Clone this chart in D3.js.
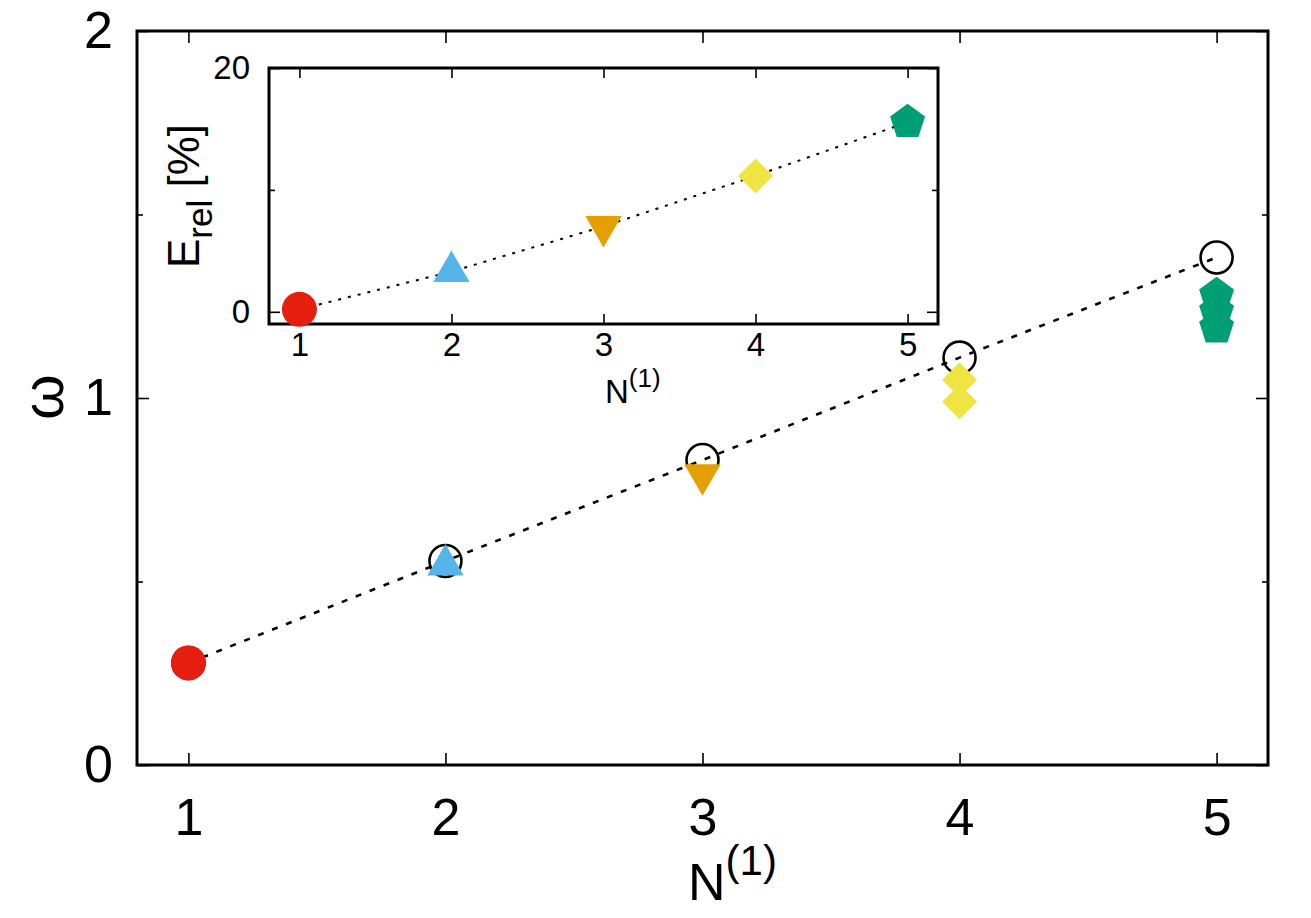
<!DOCTYPE html>
<html lang="en">
  <head>
    <meta charset="UTF-8" />
    <title>omega vs N(1)</title>
    <script src="https://d3js.org/d3.v7.min.js"></script>
    <style>
      body { margin: 0; background: #fff; }
      text { font-family: "Liberation Sans", Arial, sans-serif; fill: #000; }
    </style>
  </head>
  <body></body>
  <script>
    // N^(1) values
    var nValues = [1, 2, 3, 4, 5];
    // open circles (main panel)
    var omegaRef = [0.278, 0.556, 0.831, 1.11, 1.383];
    // coloured markers (main panel), several per N
    var omegaCalc = [[0.278], [0.545], [0.791], [1.05, 0.99], [1.28, 1.236, 1.192]];
    // inset: relative error in %
    var errRel = [0.2, 3.3, 7.0, 11.15, 15.55];

    var markerColors = ["#e51e10", "#56b4e9", "#e69f00", "#f0e442", "#009e73"];
    var markerShapes = ["circle", "triUp", "triDown", "diamond", "pentagon"];

    var mainYTicks = [0, 1, 2];
    var mainYMinor = [0.5, 1.5];
    var insetYTicks = [0, 20];
    var insetYMinor = [10];

    var W = 1311, H = 918;
    var main = { left: 137, right: 1268, top: 31, bottom: 765 };
    var inset = { left: 269, right: 938, top: 68, bottom: 324 };

    var svg = d3.select("body").append("svg").attr("width", W).attr("height", H);

    // marker shapes, size = radius^2
    var shapes = {
      circle: { draw: function (c, s) { var r = Math.sqrt(s); c.moveTo(r, 0); c.arc(0, 0, r, 0, 2 * Math.PI); } },
      triUp: { draw: function (c, s) {
        var r = Math.sqrt(s) * 1.2;
        c.moveTo(0, -r); c.lineTo(r * Math.sin(Math.PI / 3), r / 2); c.lineTo(-r * Math.sin(Math.PI / 3), r / 2); c.closePath();
      } },
      triDown: { draw: function (c, s) {
        var r = Math.sqrt(s) * 1.2;
        c.moveTo(0, r); c.lineTo(r * Math.sin(Math.PI / 3), -r / 2); c.lineTo(-r * Math.sin(Math.PI / 3), -r / 2); c.closePath();
      } },
      diamond: { draw: function (c, s) {
        var r = Math.sqrt(s);
        c.moveTo(0, -r); c.lineTo(r, 0); c.lineTo(0, r); c.lineTo(-r, 0); c.closePath();
      } },
      pentagon: { draw: function (c, s) {
        var r = Math.sqrt(s) * 1.05;
        for (var i = 0; i < 5; i++) {
          var a = -Math.PI / 2 + i * 2 * Math.PI / 5;
          if (i === 0) c.moveTo(r * Math.cos(a), r * Math.sin(a));
          else c.lineTo(r * Math.cos(a), r * Math.sin(a));
        }
        c.closePath();
      } }
    };
    function marker(i) {
      return d3.symbol().type(shapes[markerShapes[i]]).size(17.5 * 17.5)();
    }

    // ---------------- main panel ----------------
    var x = d3.scaleLinear().domain([0.8, 5.2]).range([main.left, main.right]);
    var y = d3.scaleLinear().domain([0, 2]).range([main.bottom, main.top]);

    function tickStyle(g) {
      g.select(".domain").remove();
      g.selectAll("line").attr("stroke", "#000").attr("stroke-width", 1.6);
    }

    svg.append("g")
      .attr("transform", "translate(0," + main.bottom + ")")
      .call(d3.axisBottom(x).tickValues(nValues).tickSizeInner(-12).tickSizeOuter(0).tickPadding(33).tickFormat(d3.format("d")))
      .call(tickStyle)
      .call(g => g.selectAll("text").attr("font-size", 52).attr("fill", "#000"));
    svg.append("g")
      .attr("transform", "translate(0," + main.top + ")")
      .call(d3.axisTop(x).tickValues(nValues).tickSizeInner(-12).tickSizeOuter(0).tickFormat(""))
      .call(tickStyle);
    svg.append("g")
      .attr("transform", "translate(" + main.left + ",0)")
      .call(d3.axisLeft(y).tickValues(mainYTicks).tickSizeInner(-12).tickSizeOuter(0).tickPadding(24).tickFormat(d3.format("d")))
      .call(tickStyle)
      .call(g => g.selectAll("text").attr("font-size", 52).attr("fill", "#000"));
    svg.append("g")
      .attr("transform", "translate(" + main.left + ",0)")
      .call(d3.axisLeft(y).tickValues(mainYMinor).tickSizeInner(-6).tickSizeOuter(0).tickFormat(""))
      .call(tickStyle);
    svg.append("g")
      .attr("transform", "translate(" + main.right + ",0)")
      .call(d3.axisRight(y).tickValues(mainYTicks).tickSizeInner(-12).tickSizeOuter(0).tickFormat(""))
      .call(tickStyle);
    svg.append("g")
      .attr("transform", "translate(" + main.right + ",0)")
      .call(d3.axisRight(y).tickValues(mainYMinor).tickSizeInner(-6).tickSizeOuter(0).tickFormat(""))
      .call(tickStyle);

    svg.append("rect")
      .attr("x", main.left).attr("y", main.top)
      .attr("width", main.right - main.left).attr("height", main.bottom - main.top)
      .attr("fill", "none").attr("stroke", "#000").attr("stroke-width", 3);

    // dashed line through open circles
    var line = d3.line().x((d, i) => x(nValues[i])).y(d => y(d));
    svg.append("path")
      .datum(omegaRef)
      .attr("d", line)
      .attr("fill", "none").attr("stroke", "#000")
      .attr("stroke-width", 2.6).attr("stroke-dasharray", "6,9");

    svg.append("g").selectAll("circle")
      .data(omegaRef)
      .join("circle")
      .attr("cx", (d, i) => x(nValues[i]))
      .attr("cy", d => y(d))
      .attr("r", 16)
      .attr("fill", "none").attr("stroke", "#000").attr("stroke-width", 2.6);

    var calcPts = [];
    omegaCalc.forEach(function (vals, i) {
      vals.forEach(function (v) { calcPts.push({ i: i, n: nValues[i], v: v }); });
    });
    svg.append("g").selectAll("path")
      .data(calcPts)
      .join("path")
      .attr("transform", d => "translate(" + x(d.n) + "," + y(d.v) + ")")
      .attr("d", d => marker(d.i))
      .attr("fill", d => markerColors[d.i]);

    // axis labels
    svg.append("text")
      .attr("transform", "translate(63,397) rotate(-90)")
      .attr("text-anchor", "middle")
      .attr("font-size", 58)
      .text("ω");

    var xl = svg.append("text")
      .attr("x", 688).attr("y", 900)
      .attr("font-size", 52);
    xl.append("tspan").text("N");
    xl.append("tspan").attr("font-size", 42).attr("dy", -25).text("(1)");

    // ---------------- inset ----------------
    var xi = d3.scaleLinear().domain([0.8, 5.2]).range([inset.left, inset.right]);
    var yi = d3.scaleLinear().domain([-1, 20]).range([inset.bottom, inset.top]);

    svg.append("rect")
      .attr("x", inset.left).attr("y", inset.top)
      .attr("width", inset.right - inset.left).attr("height", inset.bottom - inset.top)
      .attr("fill", "#fff");

    svg.append("g")
      .attr("transform", "translate(0," + inset.bottom + ")")
      .call(d3.axisBottom(xi).tickValues(nValues).tickSizeInner(-10).tickSizeOuter(0).tickPadding(9).tickFormat(d3.format("d")))
      .call(tickStyle)
      .call(g => g.selectAll("text").attr("font-size", 33).attr("fill", "#000"));
    svg.append("g")
      .attr("transform", "translate(0," + inset.top + ")")
      .call(d3.axisTop(xi).tickValues(nValues).tickSizeInner(-10).tickSizeOuter(0).tickFormat(""))
      .call(tickStyle);
    svg.append("g")
      .attr("transform", "translate(" + inset.left + ",0)")
      .call(d3.axisLeft(yi).tickValues(insetYTicks).tickSizeInner(-11).tickSizeOuter(0).tickPadding(19).tickFormat(d3.format("d")))
      .call(tickStyle)
      .call(g => g.selectAll("text").attr("font-size", 33).attr("fill", "#000"));
    svg.append("g")
      .attr("transform", "translate(" + inset.left + ",0)")
      .call(d3.axisLeft(yi).tickValues(insetYMinor).tickSizeInner(-6).tickSizeOuter(0).tickFormat(""))
      .call(tickStyle);
    svg.append("g")
      .attr("transform", "translate(" + inset.right + ",0)")
      .call(d3.axisRight(yi).tickValues(insetYTicks).tickSizeInner(-11).tickSizeOuter(0).tickFormat(""))
      .call(tickStyle);
    svg.append("g")
      .attr("transform", "translate(" + inset.right + ",0)")
      .call(d3.axisRight(yi).tickValues(insetYMinor).tickSizeInner(-6).tickSizeOuter(0).tickFormat(""))
      .call(tickStyle);

    svg.append("rect")
      .attr("x", inset.left).attr("y", inset.top)
      .attr("width", inset.right - inset.left).attr("height", inset.bottom - inset.top)
      .attr("fill", "none").attr("stroke", "#000").attr("stroke-width", 3);

    var lineI = d3.line().x((d, i) => xi(nValues[i])).y(d => yi(d));
    svg.append("path")
      .datum(errRel)
      .attr("d", lineI)
      .attr("fill", "none").attr("stroke", "#000")
      .attr("stroke-width", 2).attr("stroke-dasharray", "3,7");

    svg.append("g").selectAll("path")
      .data(errRel)
      .join("path")
      .attr("transform", (d, i) => "translate(" + xi(nValues[i]) + "," + yi(d) + ")")
      .attr("d", (d, i) => marker(i))
      .attr("fill", (d, i) => markerColors[i]);

    var yli = svg.append("text")
      .attr("transform", "translate(199,268) rotate(-90)")
      .attr("font-size", 44);
    yli.append("tspan").text("E");
    yli.append("tspan").attr("font-size", 35).attr("dy", 13).text("rel");
    yli.append("tspan").attr("dy", -13).text(" [%]");

    var xli = svg.append("text")
      .attr("x", 605).attr("y", 403)
      .attr("font-size", 33);
    xli.append("tspan").text("N");
    xli.append("tspan").attr("font-size", 26).attr("dy", -16).text("(1)");
  </script>
</html>
